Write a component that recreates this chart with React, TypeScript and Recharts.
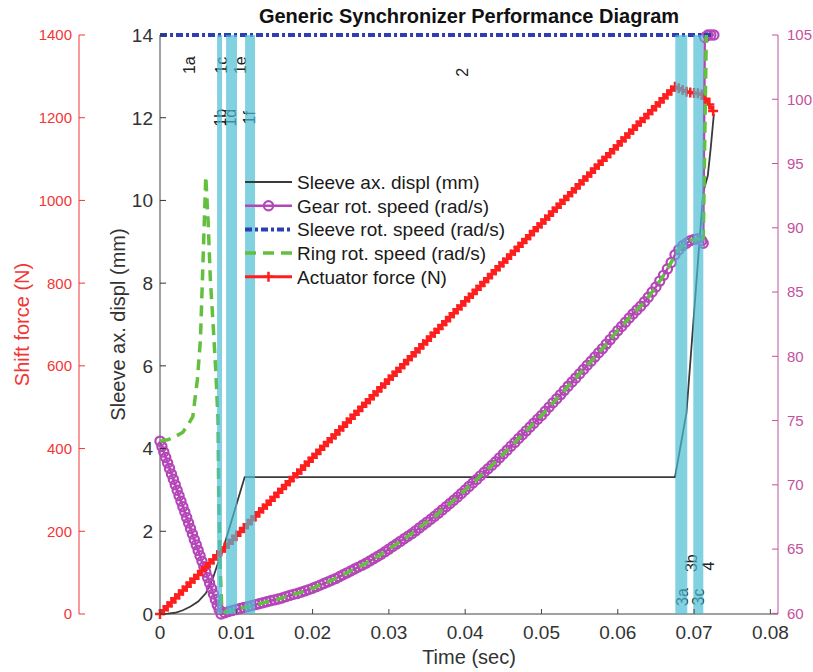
import React from "react";
import { ComposedChart, Legend, Line, ReferenceArea, ReferenceDot, XAxis, YAxis } from "recharts";

const FONT = '"Liberation Sans", Arial, Helvetica, sans-serif';

// [time (s), value] pairs
const sleeveDispl: [number, number][] = [
  [0, 0], [0.001, 0.01], [0.002, 0.03], [0.003, 0.09], [0.004, 0.18], [0.005, 0.3], [0.006, 0.5],
  [0.0066, 0.72], [0.007, 0.9], [0.0075, 1.18], [0.0081, 1.47], [0.0111, 3.31], [0.0675, 3.31],
  [0.069, 4.86], [0.0699, 7.04], [0.0712, 10.2], [0.0718, 10.6], [0.0722, 11.3], [0.0726, 12.1]
];

const gearSpeed: [number, number][] = [
  [0, 73.4], [0.00025, 72.98], [0.0005, 72.55], [0.00075, 72.13], [0.001, 71.7], [0.00125, 71.28],
  [0.0015, 70.85], [0.00175, 70.43], [0.002, 70.0], [0.00225, 69.58], [0.0025, 69.15], [0.00275, 68.73],
  [0.003, 68.3], [0.00325, 67.88], [0.0035, 67.45], [0.00375, 67.03], [0.004, 66.6], [0.00425, 66.18],
  [0.0045, 65.75], [0.00475, 65.33], [0.005, 64.9], [0.00525, 64.48], [0.0055, 64.05], [0.00575, 63.63],
  [0.006, 63.2], [0.00625, 62.78], [0.0065, 62.35], [0.00675, 61.93], [0.007, 61.5], [0.00725, 61.08],
  [0.0075, 60.65], [0.00775, 60.3], [0.008, 59.95],
  [0.0085, 60.05], [0.009, 60.15], [0.0095, 60.22], [0.01, 60.3], [0.0105, 60.38], [0.011, 60.45],
  [0.0115, 60.52], [0.012, 60.6], [0.0125, 60.68], [0.013, 60.75], [0.0135, 60.82], [0.014, 60.9],
  [0.0145, 60.98], [0.015, 61.05], [0.0155, 61.12], [0.016, 61.2], [0.0165, 61.3], [0.017, 61.4],
  [0.0175, 61.48], [0.018, 61.55], [0.0185, 61.65], [0.019, 61.75], [0.0195, 61.85], [0.02, 61.95],
  [0.0205, 62.08], [0.021, 62.2], [0.0215, 62.32], [0.022, 62.45], [0.0225, 62.58], [0.023, 62.7],
  [0.0235, 62.85], [0.024, 63.0], [0.0245, 63.15], [0.025, 63.3], [0.0255, 63.45], [0.026, 63.6],
  [0.0265, 63.75], [0.027, 63.9], [0.0275, 64.08], [0.028, 64.25], [0.0285, 64.42], [0.029, 64.6],
  [0.0295, 64.8], [0.03, 65.0], [0.0305, 65.2], [0.031, 65.4], [0.0315, 65.6], [0.032, 65.8],
  [0.0325, 66.0], [0.033, 66.2], [0.0335, 66.42], [0.034, 66.65], [0.0345, 66.88], [0.035, 67.1],
  [0.0355, 67.32], [0.036, 67.55], [0.0365, 67.8], [0.037, 68.05], [0.0375, 68.3], [0.038, 68.55],
  [0.0385, 68.8], [0.039, 69.05], [0.0395, 69.32], [0.04, 69.6], [0.0405, 69.88], [0.041, 70.15],
  [0.0415, 70.42], [0.042, 70.7], [0.0425, 70.98], [0.043, 71.25], [0.0435, 71.52], [0.044, 71.8],
  [0.0445, 72.1], [0.045, 72.4], [0.0455, 72.7], [0.046, 73.0], [0.0465, 73.3], [0.047, 73.6],
  [0.0475, 73.9], [0.048, 74.2], [0.0485, 74.5], [0.049, 74.8], [0.0495, 75.1], [0.05, 75.4],
  [0.0505, 75.72], [0.051, 76.05], [0.0515, 76.38], [0.052, 76.7], [0.0525, 77.02], [0.053, 77.35],
  [0.0535, 77.68], [0.054, 78.0], [0.0545, 78.32], [0.055, 78.65], [0.0555, 78.98], [0.056, 79.3],
  [0.0565, 79.62], [0.057, 79.95], [0.0575, 80.28], [0.058, 80.6], [0.0585, 80.95], [0.059, 81.3],
  [0.0595, 81.65], [0.06, 82.0], [0.0605, 82.32], [0.061, 82.65], [0.0615, 82.98], [0.062, 83.3],
  [0.0625, 83.6], [0.063, 83.9], [0.0635, 84.25], [0.064, 84.6], [0.0645, 85.0], [0.065, 85.4],
  [0.0655, 85.85], [0.066, 86.3], [0.0665, 86.8], [0.067, 87.3], [0.0675, 87.9], [0.068, 88.3],
  [0.0685, 88.6], [0.069, 88.8], [0.0695, 89.0], [0.07, 89.1], [0.0705, 89.15], [0.071, 89.0],
  [0.0712, 88.8], [0.0714, 104.8], [0.0718, 105], [0.0722, 105], [0.0726, 105]
];

// ring spins up on its own first, then rides on the gear until lock-up
const ringSpeedSpin: [number, number][] = [
  [0, 73.4], [0.001, 73.5], [0.002, 73.75], [0.003, 74.1], [0.0038, 74.8], [0.0043, 75.3],
  [0.0049, 78.2], [0.0053, 81.3], [0.0056, 86.7], [0.0059, 92.2], [0.006, 94.0], [0.0063, 90.6],
  [0.0066, 86.0], [0.007, 82.1], [0.0073, 79.0], [0.0076, 75.1], [0.0077, 68.9], [0.0079, 63.4],
  [0.0081, 60.3], [0.0085, 60.1]
];
const ringSpeedLock: [number, number][] = [[0.0716, 105]];

const sleeveSpeed: [number, number][] = [[0, 105], [0.0725, 105]];

const actuatorForce: [number, number][] = [
  [0, 0], [0.0005, 9], [0.001, 19], [0.0015, 28], [0.002, 38], [0.0025, 47], [0.003, 57], [0.0035, 66],
  [0.004, 76], [0.0045, 85], [0.005, 94], [0.0055, 104], [0.006, 113], [0.0065, 123], [0.007, 132],
  [0.0075, 142], [0.008, 151], [0.0085, 161], [0.009, 170], [0.0095, 179], [0.01, 189], [0.0105, 198],
  [0.011, 208], [0.0115, 217], [0.012, 227], [0.0125, 236], [0.013, 246], [0.0135, 255], [0.014, 264],
  [0.0145, 274], [0.015, 283], [0.0155, 293], [0.016, 302], [0.0165, 312], [0.017, 321], [0.0175, 331],
  [0.018, 340], [0.0185, 349], [0.019, 359], [0.0195, 368], [0.02, 378], [0.0205, 387], [0.021, 397],
  [0.0215, 406], [0.022, 416], [0.0225, 425], [0.023, 434], [0.0235, 444], [0.024, 453], [0.0245, 463],
  [0.025, 472], [0.0255, 482], [0.026, 491], [0.0265, 501], [0.027, 510], [0.0275, 519], [0.028, 529],
  [0.0285, 538], [0.029, 548], [0.0295, 557], [0.03, 567], [0.0305, 576], [0.031, 586], [0.0315, 595],
  [0.032, 604], [0.0325, 614], [0.033, 623], [0.0335, 633], [0.034, 642], [0.0345, 652], [0.035, 661],
  [0.0355, 671], [0.036, 680], [0.0365, 689], [0.037, 699], [0.0375, 708], [0.038, 718], [0.0385, 727],
  [0.039, 737], [0.0395, 746], [0.04, 756], [0.0405, 765], [0.041, 774], [0.0415, 784], [0.042, 793],
  [0.0425, 803], [0.043, 812], [0.0435, 822], [0.044, 831], [0.0445, 841], [0.045, 850], [0.0455, 859],
  [0.046, 869], [0.0465, 878], [0.047, 888], [0.0475, 897], [0.048, 907], [0.0485, 916], [0.049, 926],
  [0.0495, 935], [0.05, 944], [0.0505, 954], [0.051, 963], [0.0515, 973], [0.052, 982], [0.0525, 992],
  [0.053, 1001], [0.0535, 1011], [0.054, 1020], [0.0545, 1029], [0.055, 1039], [0.0555, 1048],
  [0.056, 1058], [0.0565, 1067], [0.057, 1077], [0.0575, 1086], [0.058, 1096], [0.0585, 1105],
  [0.059, 1114], [0.0595, 1124], [0.06, 1133], [0.0605, 1143], [0.061, 1152], [0.0615, 1162],
  [0.062, 1171], [0.0625, 1181], [0.063, 1190], [0.0635, 1199], [0.064, 1209], [0.0645, 1218],
  [0.065, 1228], [0.0655, 1237], [0.066, 1247], [0.0665, 1256], [0.067, 1266], [0.0675, 1275],
  [0.068, 1271], [0.0685, 1267], [0.069, 1263], [0.0695, 1261], [0.07, 1260], [0.0705, 1259],
  [0.071, 1256], [0.0715, 1246], [0.072, 1232], [0.0725, 1216]
];

const timeTicks = [0, 0.01, 0.02, 0.03, 0.04, 0.05, 0.06, 0.07, 0.08];
const displTicks = [0, 2, 4, 6, 8, 10, 12, 14];
const forceTicks = [0, 200, 400, 600, 800, 1000, 1200, 1400];
const speedTicks = [60, 65, 70, 75, 80, 85, 90, 95, 100, 105];

// shaded phases [start, end] in s
const phaseBands: [number, number][] = [
  [0.00748, 0.00813], [0.00866, 0.0101], [0.01115, 0.01246], [0.06754, 0.06911], [0.0699, 0.07121]
];

// phase tags: time (s), height on the displacement axis (mm)
const phaseTags: { tag: string; t: number; mm: number }[] = [
  { tag: "1a", t: 0.0039, mm: 13.27 },
  { tag: "1c", t: 0.0081, mm: 13.27 },
  { tag: "1e", t: 0.0105, mm: 13.27 },
  { tag: "1b", t: 0.0079, mm: 12.0 },
  { tag: "1d", t: 0.0093, mm: 12.0 },
  { tag: "1f", t: 0.0117, mm: 12.0 },
  { tag: "2", t: 0.0397, mm: 13.1 },
  { tag: "3a", t: 0.0685, mm: 0.41 },
  { tag: "3b", t: 0.0696, mm: 1.23 },
  { tag: "3c", t: 0.0706, mm: 0.41 },
  { tag: "4", t: 0.0719, mm: 1.16 }
];

const INK = "#333333";
const FORCE_AXIS = "#f23636";
const SPEED_AXIS = "#c4509e";

const STYLE = {
  displ: { label: "Sleeve ax. displ (mm)", color: "#3a3a3a", width: 1.8 },
  gear: { label: "Gear rot. speed (rad/s)", color: "#b546b8", width: 2.5, marker: "circle" },
  sleeve: { label: "Sleeve rot. speed (rad/s)", color: "#2c3fb4", width: 4, dash: "7 3 3 3" },
  ring: { label: "Ring rot. speed (rad/s)", color: "#63c03e", width: 3.5, dash: "11 7" },
  force: { label: "Actuator force (N)", color: "#ff1e1e", width: 3, marker: "plus" }
} as const;

const toRows = (pairs: [number, number][]) => pairs.map(([t, v]) => ({ t, v }));

function Marker({ kind, cx, cy, color }: { kind?: string; cx: number; cy: number; color: string }) {
  if (kind === "circle") return <circle cx={cx} cy={cy} r={4.6} fill="none" stroke={color} strokeWidth={2.2} />;
  if (kind === "plus")
    return <path d={`M${cx - 5},${cy}h10M${cx},${cy - 5}v10`} stroke={color} strokeWidth={2.5} fill="none" />;
  return null;
}

const dotOf = (kind: string, color: string) => (p: any) => {
  if (p.cx == null || p.cy == null) return <g key={p.index} />;
  return (
    <g key={p.index}>
      <Marker kind={kind} cx={p.cx} cy={p.cy} color={color} />
    </g>
  );
};

function SideTick({ x, y, payload, side, tone, fs, gap }: any) {
  const axisX = side === "left" ? x + gap : x - gap;
  const inward = side === "left" ? 6 : -6;
  return (
    <g>
      <line x1={axisX} x2={axisX + inward} y1={y} y2={y} stroke={tone} strokeWidth={1} />
      <text x={x} y={y} dy="0.36em" textAnchor={side === "left" ? "end" : "start"} fill={tone} fontSize={fs} fontFamily={FONT}>
        {payload.value}
      </text>
    </g>
  );
}

function TimeTick({ x, y, payload, gap }: any) {
  const axisY = y - gap;
  return (
    <g>
      <line x1={x} x2={x} y1={axisY} y2={axisY - 5} stroke="#444" strokeWidth={1} />
      <text x={x} y={y} dy="0.72em" textAnchor="middle" fill={INK} fontSize={19} fontFamily={FONT}>
        {payload.value}
      </text>
    </g>
  );
}

function AxisTitle({ viewBox, text, tone, fromLeft, fromTop }: any) {
  const vb = viewBox ?? { x: 0, y: 0, width: 0, height: 0 };
  if (fromLeft !== undefined) {
    const cx = vb.x + fromLeft;
    const cy = vb.y + vb.height / 2;
    return (
      <text x={cx} y={cy} transform={`rotate(-90 ${cx} ${cy})`} textAnchor="middle" dominantBaseline="central" fill={tone} fontSize={20} fontFamily={FONT}>
        {text}
      </text>
    );
  }
  return (
    <text x={vb.x + vb.width / 2} y={vb.y + fromTop} textAnchor="middle" fill={tone} fontSize={20} fontFamily={FONT}>
      {text}
    </text>
  );
}

function PhaseTag({ viewBox, tag }: any) {
  const cx = viewBox.x + (viewBox.width ?? 0) / 2;
  const cy = viewBox.y + (viewBox.height ?? 0) / 2;
  return (
    <text x={cx} y={cy} transform={`rotate(-90 ${cx} ${cy})`} textAnchor="middle" dominantBaseline="central" fill="#222" fontSize={16} fontFamily={FONT}>
      {tag}
    </text>
  );
}

function LegendBox() {
  const items = [STYLE.displ, STYLE.gear, STYLE.sleeve, STYLE.ring, STYLE.force];
  return (
    <svg width={280} height={125}>
      {items.map((item: any, i) => {
        const y = 13 + i * 23.7;
        return (
          <g key={item.label}>
            <line x1={4} x2={51} y1={y} y2={y} stroke={item.color} strokeWidth={item.width} strokeDasharray={item.dash} />
            <Marker kind={item.marker} cx={27.5} cy={y} color={item.color} />
            <text x={56} y={y} dy="0.36em" fontSize={19} fill="#1a1a1a" fontFamily={FONT}>
              {item.label}
            </text>
          </g>
        );
      })}
    </svg>
  );
}

export default function App() {
  const ringSpeed = [
    ...ringSpeedSpin,
    ...gearSpeed.filter(([t]) => t >= 0.009 && t <= 0.0712),
    ...ringSpeedLock
  ];

  return (
    <div style={{ position: "absolute", left: 0, top: 0, width: 813, height: 672, background: "#fff", fontFamily: FONT }}>
      <ComposedChart width={813} height={672} margin={{ top: 35, right: 0, bottom: 0, left: 0 }}>
        <XAxis
          dataKey="t"
          type="number"
          domain={[0, 0.081]}
          ticks={timeTicks}
          interval={0}
          height={58}
          tickSize={0}
          tickMargin={11}
          tickLine={false}
          axisLine={{ stroke: "#444" }}
          tick={<TimeTick gap={11} />}
          label={<AxisTitle text="Time (sec)" tone={INK} fromTop={50} />}
        />
        <YAxis
          yAxisId="displ"
          domain={[0, 14]}
          ticks={displTicks}
          interval={0}
          width={81}
          tickSize={0}
          tickMargin={7}
          tickLine={false}
          axisLine={{ stroke: "#444" }}
          tick={<SideTick side="left" tone={INK} fs={19} gap={7} />}
          label={<AxisTitle text="Sleeve ax. displ (mm)" tone={INK} fromLeft={39} />}
        />
        <YAxis
          yAxisId="force"
          domain={[0, 1400]}
          ticks={forceTicks}
          interval={0}
          width={79}
          tickSize={0}
          tickMargin={7}
          tickLine={false}
          axisLine={{ stroke: FORCE_AXIS }}
          tick={<SideTick side="left" tone={FORCE_AXIS} fs={15} gap={7} />}
          label={<AxisTitle text="Shift force (N)" tone={FORCE_AXIS} fromLeft={22} />}
        />
        <YAxis
          yAxisId="speed"
          orientation="right"
          domain={[60, 105]}
          ticks={speedTicks}
          interval={0}
          width={35}
          tickSize={0}
          tickMargin={9}
          tickLine={false}
          axisLine={{ stroke: SPEED_AXIS }}
          tick={<SideTick side="right" tone={SPEED_AXIS} fs={15} gap={9} />}
        />

        <Line yAxisId="displ" data={toRows(sleeveDispl)} dataKey="v" type="linear" stroke={STYLE.displ.color}
          strokeWidth={STYLE.displ.width} dot={false} activeDot={false} isAnimationActive={false} />
        <Line yAxisId="speed" data={toRows(gearSpeed)} dataKey="v" type="linear" stroke={STYLE.gear.color}
          strokeWidth={STYLE.gear.width} dot={dotOf("circle", STYLE.gear.color)} activeDot={false} isAnimationActive={false} />
        <Line yAxisId="speed" data={toRows(sleeveSpeed)} dataKey="v" type="linear" stroke={STYLE.sleeve.color}
          strokeWidth={STYLE.sleeve.width} strokeDasharray={STYLE.sleeve.dash} dot={false} activeDot={false} isAnimationActive={false} zIndex={1000} />
        <Line yAxisId="speed" data={toRows(ringSpeed)} dataKey="v" type="linear" stroke={STYLE.ring.color}
          strokeWidth={STYLE.ring.width} strokeDasharray={STYLE.ring.dash} dot={false} activeDot={false} isAnimationActive={false} zIndex={1100} />
        <Line yAxisId="force" data={toRows(actuatorForce)} dataKey="v" type="linear" stroke={STYLE.force.color}
          strokeWidth={STYLE.force.width} dot={dotOf("plus", STYLE.force.color)} activeDot={false} isAnimationActive={false} zIndex={1200} />

        {phaseTags.map((p) => (
          <ReferenceDot key={p.tag} yAxisId="displ" x={p.t} y={p.mm} r={0} fill="none" stroke="none" label={<PhaseTag tag={p.tag} />} />
        ))}
        {phaseBands.map(([a, b]) => (
          <ReferenceArea key={a} yAxisId="displ" x1={a} x2={b} y1={0} y2={14} fill="#4abcd4" fillOpacity={0.69} stroke="none" zIndex={1500} />
        ))}

        <Legend layout="vertical" align="center" verticalAlign="middle" content={() => <LegendBox />}
          wrapperStyle={{ left: 241, top: 169, width: 280, height: 125 }} />
      </ComposedChart>
      <div style={{ position: "absolute", top: 5, left: 160, width: 618, textAlign: "center", fontSize: 20, fontWeight: "bold", lineHeight: "22px", color: "#111" }}>
        Generic Synchronizer Performance Diagram
      </div>
    </div>
  );
}
